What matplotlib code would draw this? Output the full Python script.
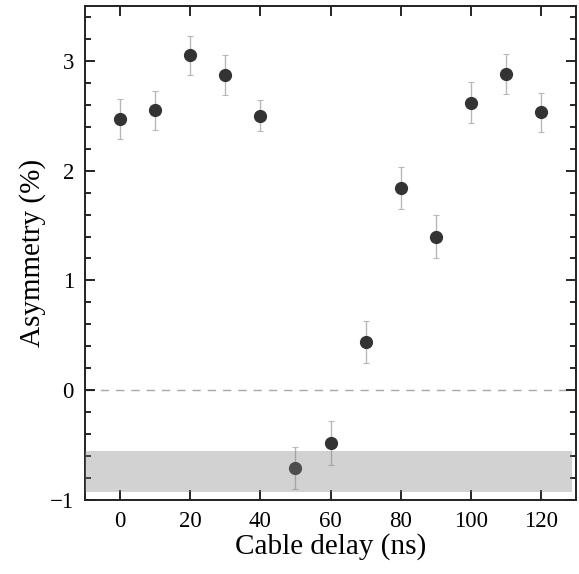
import matplotlib
matplotlib.use("Agg")
import matplotlib.pyplot as plt
from matplotlib.ticker import MultipleLocator, NullLocator
import numpy as np

# === Data ===
delay_ns = [0, 10, 20, 30, 40, 50, 60, 70, 80, 90, 100, 110, 120]
asymmetry = [2.47, 2.55, 3.05, 2.87, 2.50, -0.71, -0.48, 0.44, 1.84, 1.40, 2.62, 2.88, 2.53]
asym_err = [0.18, 0.18, 0.18, 0.18, 0.14, 0.19, 0.20, 0.19, 0.19, 0.20, 0.19, 0.18, 0.18]
band_low, band_high = -0.93, -0.55

plt.rcParams["font.family"] = ["Liberation Serif", "DejaVu Serif"]

fig = plt.figure(figsize=(5.79, 5.74), dpi=100)
ax = fig.add_axes([85 / 579, 1 - 500 / 574, 491 / 579, 494 / 574])

ax.axhline(0, color="#a8a8a8", lw=1.0, ls=(0, (6, 5)), zorder=1)
ax.errorbar(delay_ns, asymmetry, yerr=asym_err, fmt="o", color="#333333",
            markersize=8.5, ecolor="#b8b8b8", elinewidth=1.0, capsize=2.5,
            capthick=0.8, zorder=2)
ax.axhspan(band_low, band_high, xmin=0, xmax=139 / 140, color="#808080",
           alpha=0.35, lw=0, zorder=3)

ax.set_xlim(-10, 130)
ax.set_ylim(-1, 3.5)
ax.set_xticks(np.arange(0, 121, 20))
ax.xaxis.set_minor_locator(NullLocator())
ax.yaxis.set_major_locator(MultipleLocator(1))
ax.yaxis.set_minor_locator(MultipleLocator(0.2))

ax.tick_params(which="both", direction="in", top=True, right=True,
               labelsize=16.5, width=1.2, pad=8)
ax.tick_params(which="major", length=7)
ax.tick_params(which="minor", length=4)
for sp in ax.spines.values():
    sp.set_linewidth(1.4)
    sp.set_color("#222222")

ax.set_xlabel("Cable delay (ns)", fontsize=21, labelpad=1)
ax.set_ylabel("Asymmetry (%)", fontsize=21, labelpad=3)

fig.savefig("out.png", dpi=100)
